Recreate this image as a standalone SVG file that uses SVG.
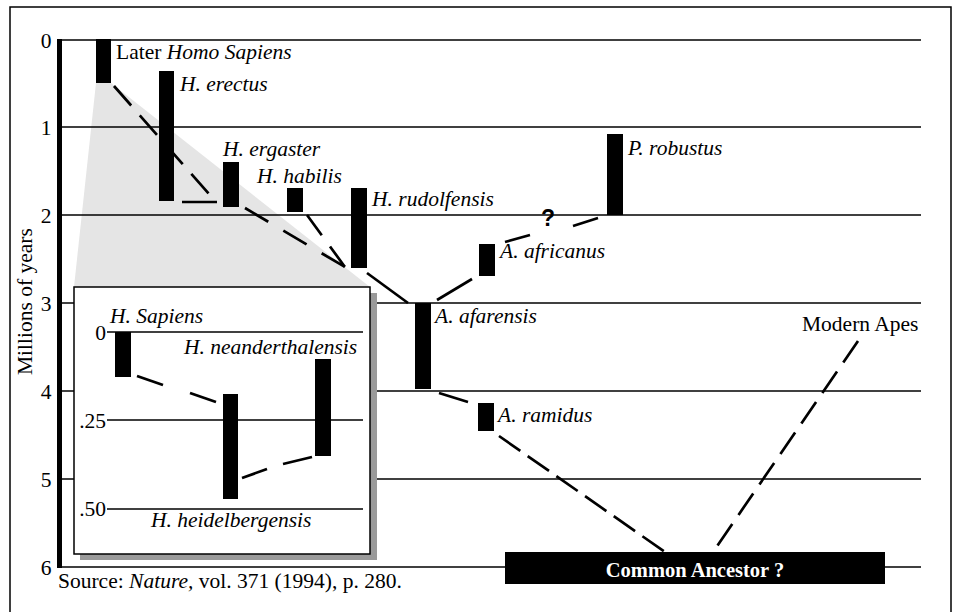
<svg xmlns="http://www.w3.org/2000/svg" width="956" height="612" viewBox="0 0 956 612">
<style>
text{font-family:"Liberation Serif","Times New Roman",serif;font-size:21.5px;fill:#000}
.it{font-style:italic}
.grid{stroke:#000;stroke-width:1.4;fill:none}
.bar{fill:#000}
.dash{stroke:#000;stroke-width:2.7;fill:none}
.tick{text-anchor:middle}
.itick{text-anchor:end}
</style>
<rect width="956" height="612" fill="#fff"/>
<path d="M10,620 V7 H951 V620" fill="none" stroke="#000" stroke-width="1.5"/>
<polygon id="zoom-wedge" points="96,83 111,83 370,287 74,287" fill="#e5e5e5"/>
<g id="grid">
<line class="grid" x1="62" y1="40" x2="921" y2="40"/>
<line class="grid" x1="62" y1="127" x2="921" y2="127"/>
<line class="grid" x1="62" y1="215" x2="921" y2="215"/>
<line class="grid" x1="62" y1="303" x2="921" y2="303"/>
<line class="grid" x1="62" y1="391" x2="921" y2="391"/>
<line class="grid" x1="62" y1="479" x2="921" y2="479"/>
<line class="grid" x1="62" y1="567" x2="921" y2="567"/>
<rect x="57" y="39" width="5" height="529" fill="#000"/>
<text class="tick" x="46" y="48">0</text>
<text class="tick" x="46" y="135">1</text>
<text class="tick" x="46" y="223">2</text>
<text class="tick" x="46" y="311">3</text>
<text class="tick" x="46" y="399">4</text>
<text class="tick" x="46" y="487">5</text>
<text class="tick" x="46" y="575">6</text>
<text transform="translate(32,375) rotate(-90)">Millions of years</text>
</g>
<g id="connectors">
<line class="dash" x1="114" y1="86" x2="217" y2="203" stroke-dasharray="26 13"/>
<line class="dash" x1="182" y1="202" x2="217" y2="202"/>
<line class="dash" x1="245" y1="208" x2="345" y2="267" stroke-dasharray="27 17.5"/>
<line class="dash" x1="307" y1="215" x2="345" y2="267" stroke-dasharray="25 14"/>
<line class="dash" x1="367" y1="273" x2="408" y2="303"/>
<line class="dash" x1="437" y1="300" x2="472" y2="279"/>
<line class="dash" x1="505" y1="242" x2="530" y2="235"/>
<line class="dash" x1="573" y1="226" x2="598" y2="218"/>
<line class="dash" x1="439" y1="393" x2="468" y2="402"/>
<line class="dash" x1="499" y1="436" x2="665" y2="552" stroke-dasharray="26 9"/>
<line class="dash" x1="858" y1="341" x2="713" y2="552" stroke-dasharray="26 11"/>
</g>
<g id="later-homo-sapiens"><rect class="bar" x="96" y="39" width="15" height="44"/><text x="116" y="59">Later <tspan class="it">Homo Sapiens</tspan></text></g>
<g id="h-erectus"><rect class="bar" x="159" y="71" width="15" height="130"/><text class="it" x="180" y="91">H. erectus</text></g>
<g id="h-ergaster"><rect class="bar" x="223" y="162" width="16" height="45"/><text class="it" x="223" y="156">H. ergaster</text></g>
<g id="h-habilis"><rect class="bar" x="287" y="188" width="16" height="24"/><text class="it" x="257" y="183">H. habilis</text></g>
<g id="h-rudolfensis"><rect class="bar" x="351" y="188" width="16" height="80"/><text class="it" x="372" y="206">H. rudolfensis</text></g>
<g id="a-africanus"><rect class="bar" x="479" y="244" width="16" height="32"/><text class="it" x="500" y="258">A. africanus</text></g>
<g id="p-robustus"><rect class="bar" x="607" y="134" width="16" height="81"/><text class="it" x="628" y="155">P. robustus</text></g>
<g id="question"><text x="548" y="226" style="font-family:'Liberation Sans',Arial,sans-serif;font-weight:900;font-size:23px;text-anchor:middle">?</text></g>
<g id="a-afarensis"><rect class="bar" x="415" y="303" width="16" height="86"/><text class="it" x="435" y="323">A. afarensis</text></g>
<g id="a-ramidus"><rect class="bar" x="478" y="403" width="16" height="28"/><text class="it" x="498" y="422">A. ramidus</text></g>
<g id="modern-apes"><text x="802" y="331">Modern Apes</text></g>
<g id="common-ancestor"><rect class="bar" x="505" y="552" width="380" height="32"/><text x="695" y="577" style="font-weight:bold;font-size:20.5px;fill:#fff;text-anchor:middle">Common Ancestor ?</text></g>
<g id="inset">
<rect x="80" y="293" width="297" height="267" fill="#9a9a9a"/>
<rect x="74" y="287" width="296" height="267" fill="#fff" stroke="#000" stroke-width="1.5"/>
<line class="grid" x1="107" y1="332" x2="363" y2="332"/>
<line class="grid" x1="107" y1="420" x2="363" y2="420"/>
<line class="grid" x1="107" y1="509" x2="363" y2="509"/>
<text class="itick" x="106" y="340">0</text>
<text class="itick" x="106" y="428">.25</text>
<text class="itick" x="106" y="516">.50</text>
<g id="inset-connectors">
<line class="dash" x1="137" y1="376" x2="163" y2="385"/>
<line class="dash" x1="190" y1="393" x2="216" y2="402"/>
<line class="dash" x1="242" y1="478" x2="267" y2="469"/>
<line class="dash" x1="283" y1="464" x2="312" y2="457"/>
</g>
<g id="h-sapiens"><rect class="bar" x="115" y="332" width="16" height="45"/><text class="it" x="110" y="323">H. Sapiens</text></g>
<g id="h-heidelbergensis"><rect class="bar" x="223" y="394" width="15" height="105"/><text class="it" x="151" y="527">H. heidelbergensis</text></g>
<g id="h-neanderthalensis"><rect class="bar" x="315" y="359" width="16" height="97"/><text class="it" x="184" y="354">H. neanderthalensis</text></g>
</g>
<g id="source"><text x="58" y="588">Source: <tspan class="it">Nature,</tspan> vol. 371 (1994), p. 280.</text></g>
</svg>
